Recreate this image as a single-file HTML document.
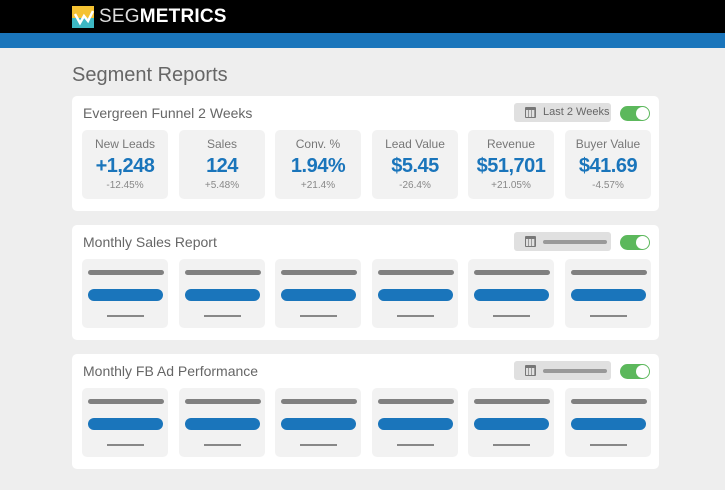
<!DOCTYPE html>
<html><head><meta charset="utf-8"><style>
*{margin:0;padding:0;box-sizing:border-box}
body{width:725px;height:490px;background:#eeeeee;font-family:"Liberation Sans",sans-serif;position:relative;overflow:hidden}
.abs{position:absolute}
.hdr{left:0;top:0;width:725px;height:33px;background:#000}
.blue{left:0;top:33px;width:725px;height:15px;background:#1a75bb}
.panel{left:72px;width:587px;height:115px;background:#fff;border-radius:5px}
.ptitle{left:11px;top:9px;font-size:14px;color:#666;font-weight:300}
.date{left:442px;top:7px;width:97px;height:19px;background:#e0e0e0;border-radius:3px}
.date .ph{position:absolute;left:29px;top:8px;width:64px;height:4px;background:#999;border-radius:2px}
.date .txt{position:absolute;left:29px;top:3px;font-size:11px;color:#666}
.cal{position:absolute;left:11px;top:4px;width:11px;height:11px;border:1.5px solid #777;border-top-width:3px;border-radius:1px;background:repeating-linear-gradient(90deg,#e0e0e0 0 2px,#999 2px 3px)}
.tog{left:548px;top:10px;width:30px;height:15px;background:#5cb85c;border-radius:8px}
.tog::after{content:"";position:absolute;right:1px;top:1px;width:13px;height:13px;border-radius:50%;background:#fff}
.card{top:34px;width:86px;height:69px;background:#f2f2f2;border-radius:5px;text-align:center}
.lbl{position:absolute;left:0;width:100%;top:7px;font-size:12px;color:#777}
.val{position:absolute;left:0;width:100%;top:25px;font-size:20px;font-weight:bold;color:#1a75bb;letter-spacing:-0.5px}
.pct{position:absolute;left:0;width:100%;top:50px;font-size:10px;color:#888}
.g1{position:absolute;left:6px;top:11px;width:76px;height:5px;background:#808080;border-radius:3px}
.b1{position:absolute;left:6px;top:30px;width:75px;height:12px;background:#1a75bb;border-radius:6px}
.l1{position:absolute;left:25px;top:56px;width:37px;height:2px;background:#888}
</style></head><body>
<div class="abs hdr">
  <div class="abs" style="left:72px;top:6px;width:22px;height:22px;background:linear-gradient(#f5c232 0 55%,#3db8c4 55%);overflow:hidden">
    <svg width="22" height="22"><polyline points="3,8 8,17 12,10 16,15 21,5" fill="none" stroke="#fff" stroke-width="2.5"/></svg>
  </div>
  <div class="abs" style="left:99px;top:6px;font-size:19px;color:#fff;letter-spacing:0.2px"><span style="font-weight:300;color:#ddd">SEG</span><b>METRICS</b></div>
</div>
<div class="abs blue"></div>
<div class="abs" style="left:72px;top:64px;font-size:20px;color:#666">Segment Reports</div>

<div class="abs panel" style="top:96px">
  <div class="abs ptitle">Evergreen Funnel 2 Weeks</div>
  <div class="abs date"><div class="cal"></div><div class="txt">Last 2 Weeks</div></div>
  <div class="abs tog"></div>
  <div class="abs card" style="left:10px"><div class="lbl">New Leads</div><div class="val">+1,248</div><div class="pct">-12.45%</div></div>
  <div class="abs card" style="left:107px"><div class="lbl">Sales</div><div class="val">124</div><div class="pct">+5.48%</div></div>
  <div class="abs card" style="left:203px"><div class="lbl">Conv. %</div><div class="val">1.94%</div><div class="pct">+21.4%</div></div>
  <div class="abs card" style="left:300px"><div class="lbl">Lead Value</div><div class="val">$5.45</div><div class="pct">-26.4%</div></div>
  <div class="abs card" style="left:396px"><div class="lbl">Revenue</div><div class="val">$51,701</div><div class="pct">+21.05%</div></div>
  <div class="abs card" style="left:493px"><div class="lbl">Buyer Value</div><div class="val">$41.69</div><div class="pct">-4.57%</div></div>
</div>

<div class="abs panel" style="top:225px">
  <div class="abs ptitle">Monthly Sales Report</div>
  <div class="abs date"><div class="cal"></div><div class="ph"></div></div>
  <div class="abs tog"></div>
  <div class="abs card" style="left:10px"><div class="g1"></div><div class="b1"></div><div class="l1"></div></div>
  <div class="abs card" style="left:107px"><div class="g1"></div><div class="b1"></div><div class="l1"></div></div>
  <div class="abs card" style="left:203px"><div class="g1"></div><div class="b1"></div><div class="l1"></div></div>
  <div class="abs card" style="left:300px"><div class="g1"></div><div class="b1"></div><div class="l1"></div></div>
  <div class="abs card" style="left:396px"><div class="g1"></div><div class="b1"></div><div class="l1"></div></div>
  <div class="abs card" style="left:493px"><div class="g1"></div><div class="b1"></div><div class="l1"></div></div>
</div>

<div class="abs panel" style="top:354px">
  <div class="abs ptitle">Monthly FB Ad Performance</div>
  <div class="abs date"><div class="cal"></div><div class="ph"></div></div>
  <div class="abs tog"></div>
  <div class="abs card" style="left:10px"><div class="g1"></div><div class="b1"></div><div class="l1"></div></div>
  <div class="abs card" style="left:107px"><div class="g1"></div><div class="b1"></div><div class="l1"></div></div>
  <div class="abs card" style="left:203px"><div class="g1"></div><div class="b1"></div><div class="l1"></div></div>
  <div class="abs card" style="left:300px"><div class="g1"></div><div class="b1"></div><div class="l1"></div></div>
  <div class="abs card" style="left:396px"><div class="g1"></div><div class="b1"></div><div class="l1"></div></div>
  <div class="abs card" style="left:493px"><div class="g1"></div><div class="b1"></div><div class="l1"></div></div>
</div>
</body></html>
